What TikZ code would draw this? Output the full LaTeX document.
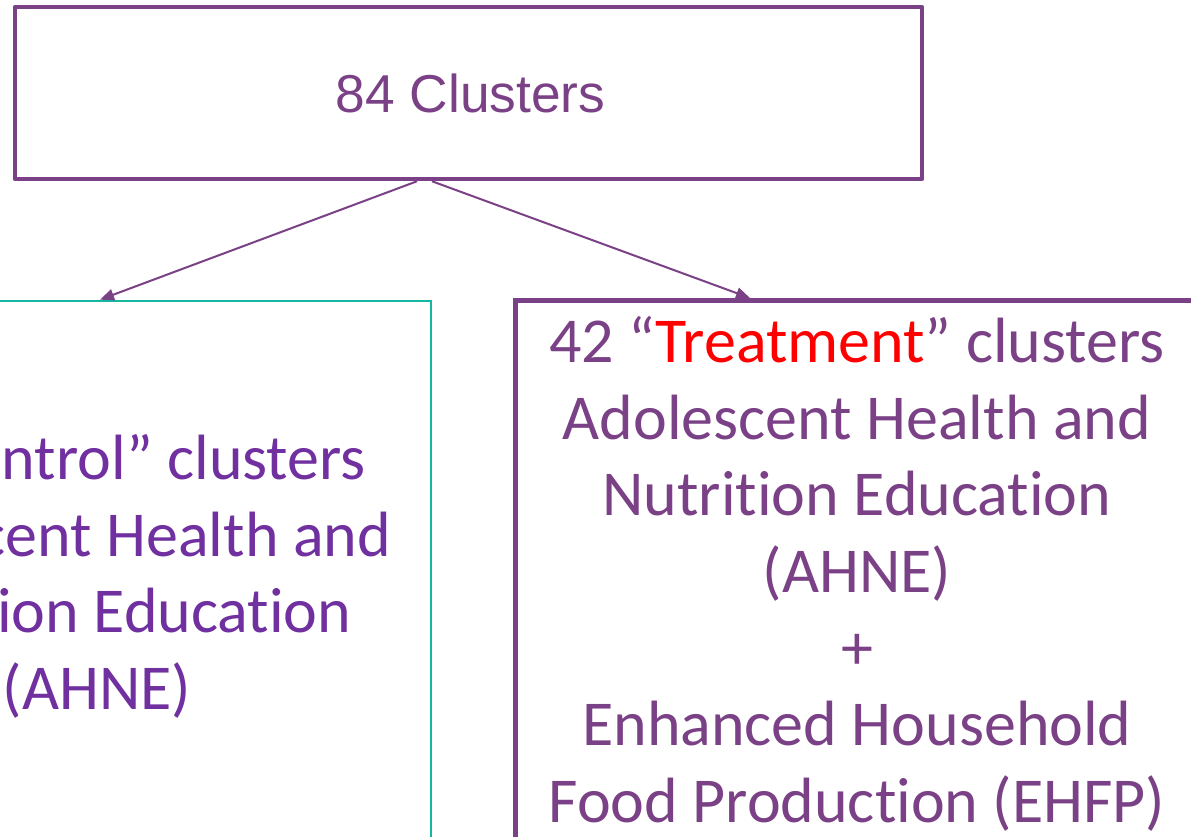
\documentclass[tikz,border=0pt]{standalone}
\usepackage{fontspec}
\setmainfont{Carlito}[Ligatures=NoCommon]
\newfontfamily\arialfont{Liberation Sans}
\usetikzlibrary{arrows.meta,calc}
\definecolor{plum}{HTML}{7B4186}
\definecolor{violettext}{HTML}{7030A0}
\definecolor{tealline}{HTML}{14B8A0}
\definecolor{treatred}{HTML}{FF0000}
\tikzset{
  clusterbox/.style={draw=plum, line width=3.4pt, line join=round, fill=none, inner sep=0pt},
  armbox/.style={draw=#1, fill=none, inner sep=0pt, minimum width=510.75pt},
  armtext/.style={font=\fontsize{48}{57.5}\selectfont, align=center, inner sep=0pt, anchor=north},
  splitarrow/.style={draw=plum, line width=1.5pt, -{Triangle[length=10.5pt,width=8.5pt]}}
}
\begin{document}
\begin{tikzpicture}[x=0.75pt,y=-0.75pt]
\useasboundingbox (0,0) rectangle (1191,837);
\clip (0,0) rectangle (1191,837);

% all clusters
\node[clusterbox, minimum width=680.25pt, minimum height=129pt] (all) at (468.5,93) {};
\node[font=\arialfont\fontsize{40}{48}\selectfont, text=plum] (alltxt) at ($(all.center)+(2,0)$) {84 Clusters};

% control arm
\node[armbox=tealline, line width=2pt, minimum width=502.5pt, minimum height=420pt] (control) at (96,581) {};
\node[armtext, text=violettext] (controltxt) at (97,433)
  {42 “Control” clusters\\Adolescent Health and\\Nutrition Education\\(AHNE)};

% treatment arm
\node[armbox=plum, line width=3.6pt, minimum height=404pt] (treat) at (856,569.75) {};
\node[armtext, text=plum] (treattxt) at (857,316)
  {42 “\textcolor{treatred}{Treatment}” clusters\\Adolescent Health and\\Nutrition Education\\(AHNE)\\+\\Enhanced Household\\Food Production (EHFP)};

% allocation arrows
\draw[splitarrow] ($(all.south)+(-51.5,0)$) -- ($(control.north)+(4,0)$);
\draw[splitarrow] ($(all.south)+(-36.5,0)$) -- ($(treat.north)+(-106,0)$);
\end{tikzpicture}
\end{document}
